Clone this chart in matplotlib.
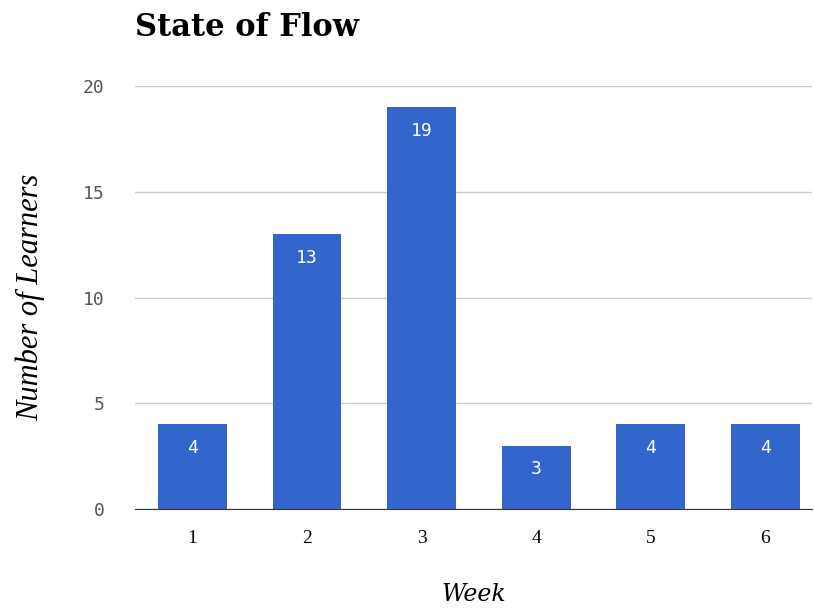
import matplotlib.pyplot as plt

weeks = [1, 2, 3, 4, 5, 6]
learners = [4, 13, 19, 3, 4, 4]
yticks = [0, 5, 10, 15, 20]

fig = plt.figure(figsize=(8.14, 6.11), dpi=100)
ax = fig.add_axes([0.166, 0.167, 0.832, 0.692])

bars = ax.bar(weeks, learners, width=0.6, color="#3366cc", zorder=2)
for b, v in zip(bars, learners):
    ax.annotate(str(v), (b.get_x() + b.get_width() / 2, v), xytext=(0, -17),
                textcoords="offset points", ha="center", va="center",
                color="white", fontsize=13, family="DejaVu Sans Mono")

ax.set_xlim(0.5, 6.41)
ax.set_ylim(0, 20)
ax.set_yticks(yticks)
ax.set_xticks(weeks)
ax.grid(axis="y", color="#cccccc", linewidth=1, zorder=0)
for s in ["top", "right", "left"]:
    ax.spines[s].set_visible(False)
ax.spines["bottom"].set_color("#333333")
ax.spines["bottom"].set_zorder(3)
ax.tick_params(axis="both", length=0)
ax.tick_params(axis="y", pad=22, labelsize=13, labelcolor="#555555")
ax.tick_params(axis="x", pad=15, labelsize=14)
for t in ax.get_yticklabels():
    t.set_family("DejaVu Sans Mono")
for t in ax.get_xticklabels():
    t.set_family("Liberation Serif")

ax.set_ylabel("Number of Learners", fontsize=22, family="Liberation Serif",
              style="italic", labelpad=27)
ax.set_xlabel("Week", fontsize=17, family="DejaVu Serif", style="italic",
              labelpad=26)
fig.text(0.166, 0.955, "State of Flow", fontsize=22, fontweight="bold",
         family="DejaVu Serif", va="center", ha="left")

fig.savefig("out.png", dpi=100)
